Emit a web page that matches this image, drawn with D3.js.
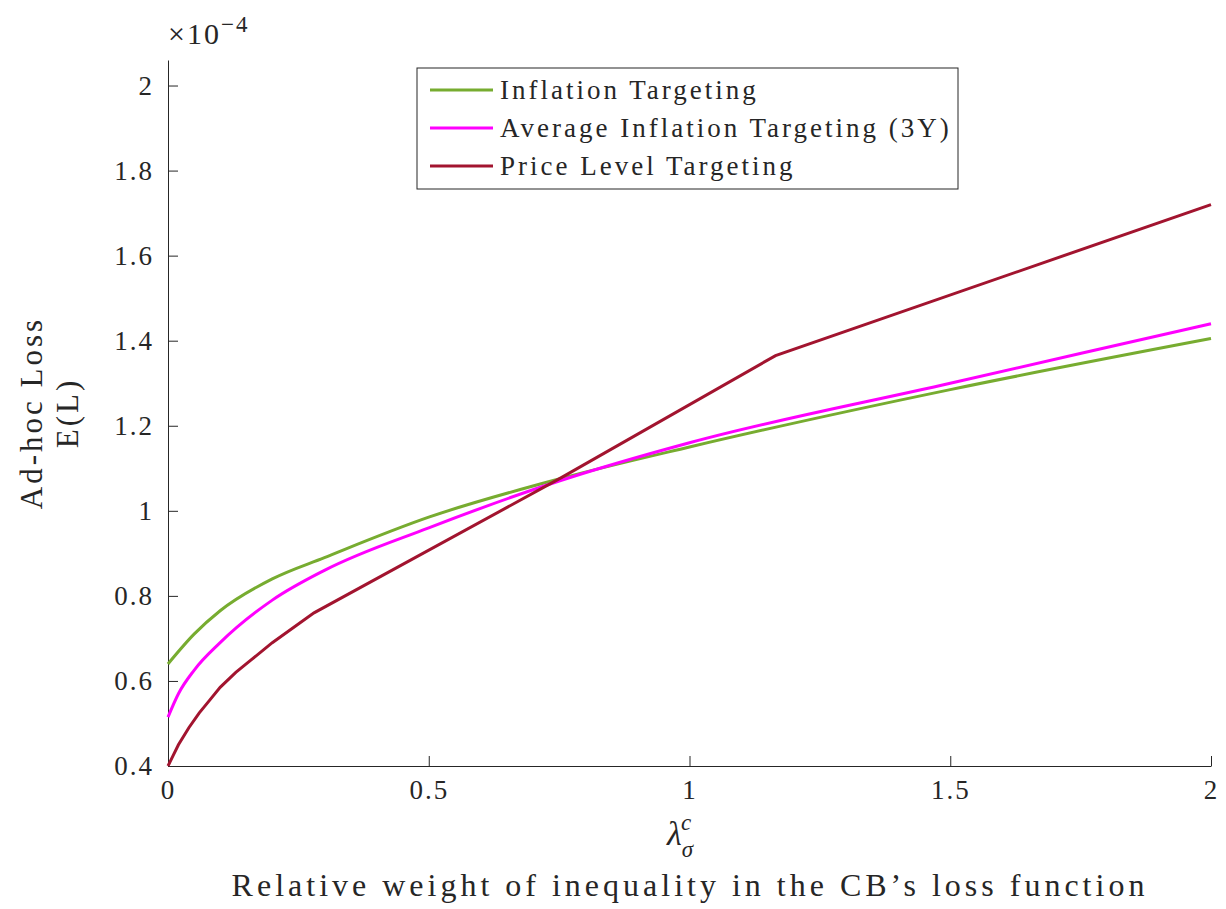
<!DOCTYPE html><html><head><meta charset="utf-8"><script src="https://cdn.jsdelivr.net/npm/d3@7"></script>
<style>body{margin:0;background:#fff}text{font-family:"Liberation Serif",serif;fill:#262626}</style></head><body>
<svg id="c" width="1226" height="909"></svg>
<script>
const xIT=[0,0.05,0.1,0.2,0.3,0.5,0.75,1.0,1.5,2];
const yIT=[0.64,0.71,0.765,0.84,0.89,0.985,1.075,1.15,1.285,1.405];
const xAIT=[0,0.02,0.05,0.1,0.2,0.3,0.5,0.75,1.0,1.5,2];
const yAIT=[0.515,0.57,0.625,0.69,0.79,0.86,0.96,1.07,1.16,1.30,1.44];
const xPLT=[0,0.01,0.02,0.04,0.06,0.08,0.1,0.13,0.16,0.2,0.24,0.28,0.75,1.165,2];
const yPLT=[0.40,0.425,0.45,0.49,0.525,0.555,0.585,0.62,0.65,0.69,0.725,0.76,1.075,1.365,1.72];
const series=[{name:"Inflation Targeting",x:xIT,y:yIT,c:"#77ac30",cv:d3.curveMonotoneX},{name:"Average Inflation Targeting (3Y)",x:xAIT,y:yAIT,c:"#ff00ff",cv:d3.curveMonotoneX},{name:"Price Level Targeting",x:xPLT,y:yPLT,c:"#a2142f",cv:d3.curveLinear}];
const xTicks=[0,0.5,1,1.5,2],yTicks=[0.4,0.6,0.8,1,1.2,1.4,1.6,1.8,2];
const svg=d3.select("#c");
const x=d3.scaleLinear().domain([0,2]).range([168,1211]);
const y=d3.scaleLinear().domain([0.4,2.06]).range([766,60]);
const gx=svg.append("g").attr("transform","translate(0,766)").call(d3.axisBottom(x).tickValues(xTicks).tickFormat(d3.format("")).tickSizeInner(-10).tickSizeOuter(0).tickPadding(14));
const gy=svg.append("g").attr("transform","translate(168,0)").call(d3.axisLeft(y).tickValues(yTicks).tickFormat(d3.format("")).tickSizeInner(-10).tickSizeOuter(0).tickPadding(14));
[gx,gy].forEach(g=>{g.selectAll("path,line").attr("stroke","#262626");g.selectAll("text").style("font-size","27px").style("letter-spacing","2px").attr("fill","#262626");});
series.forEach(s=>svg.append("path").attr("d",d3.line().curve(s.cv)(s.x.map((v,i)=>[x(v),y(s.y[i])]))).attr("fill","none").attr("stroke",s.c).attr("stroke-width",3));
svg.append("text").attr("x",168).attr("y",44).style("font-size","30px").style("letter-spacing","2px").html('×10<tspan dy="-12" font-size="23">−4</tspan>');
svg.append("text").attr("transform","translate(42,413) rotate(-90)").attr("text-anchor","middle").style("font-size","31px").style("letter-spacing","3px").text("Ad-hoc Loss");
svg.append("text").attr("transform","translate(78,413) rotate(-90)").attr("text-anchor","middle").style("font-size","31px").style("letter-spacing","3px").text("E(L)");
svg.append("text").attr("x",680).attr("y",845).attr("text-anchor","middle").style("font-size","34px").style("font-style","italic").html('λ<tspan dy="12" font-size="23">σ</tspan><tspan dy="-27" dx="-12" font-size="23">c</tspan>');
svg.append("text").attr("x",690).attr("y",896).attr("text-anchor","middle").style("font-size","32px").style("letter-spacing","4px").text("Relative weight of inequality in the CB’s loss function");
const lg=svg.append("g");
lg.append("rect").attr("x",417).attr("y",68).attr("width",541).attr("height",121).attr("fill","#fff").attr("stroke","#262626");
series.forEach((s,i)=>{const yy=90+i*38;lg.append("line").attr("x1",430).attr("x2",493).attr("y1",yy).attr("y2",yy).attr("stroke",s.c).attr("stroke-width",3);
lg.append("text").attr("x",500).attr("y",yy+9).style("font-size","27px").style("letter-spacing","3px").text(s.name);});
</script></body></html>
